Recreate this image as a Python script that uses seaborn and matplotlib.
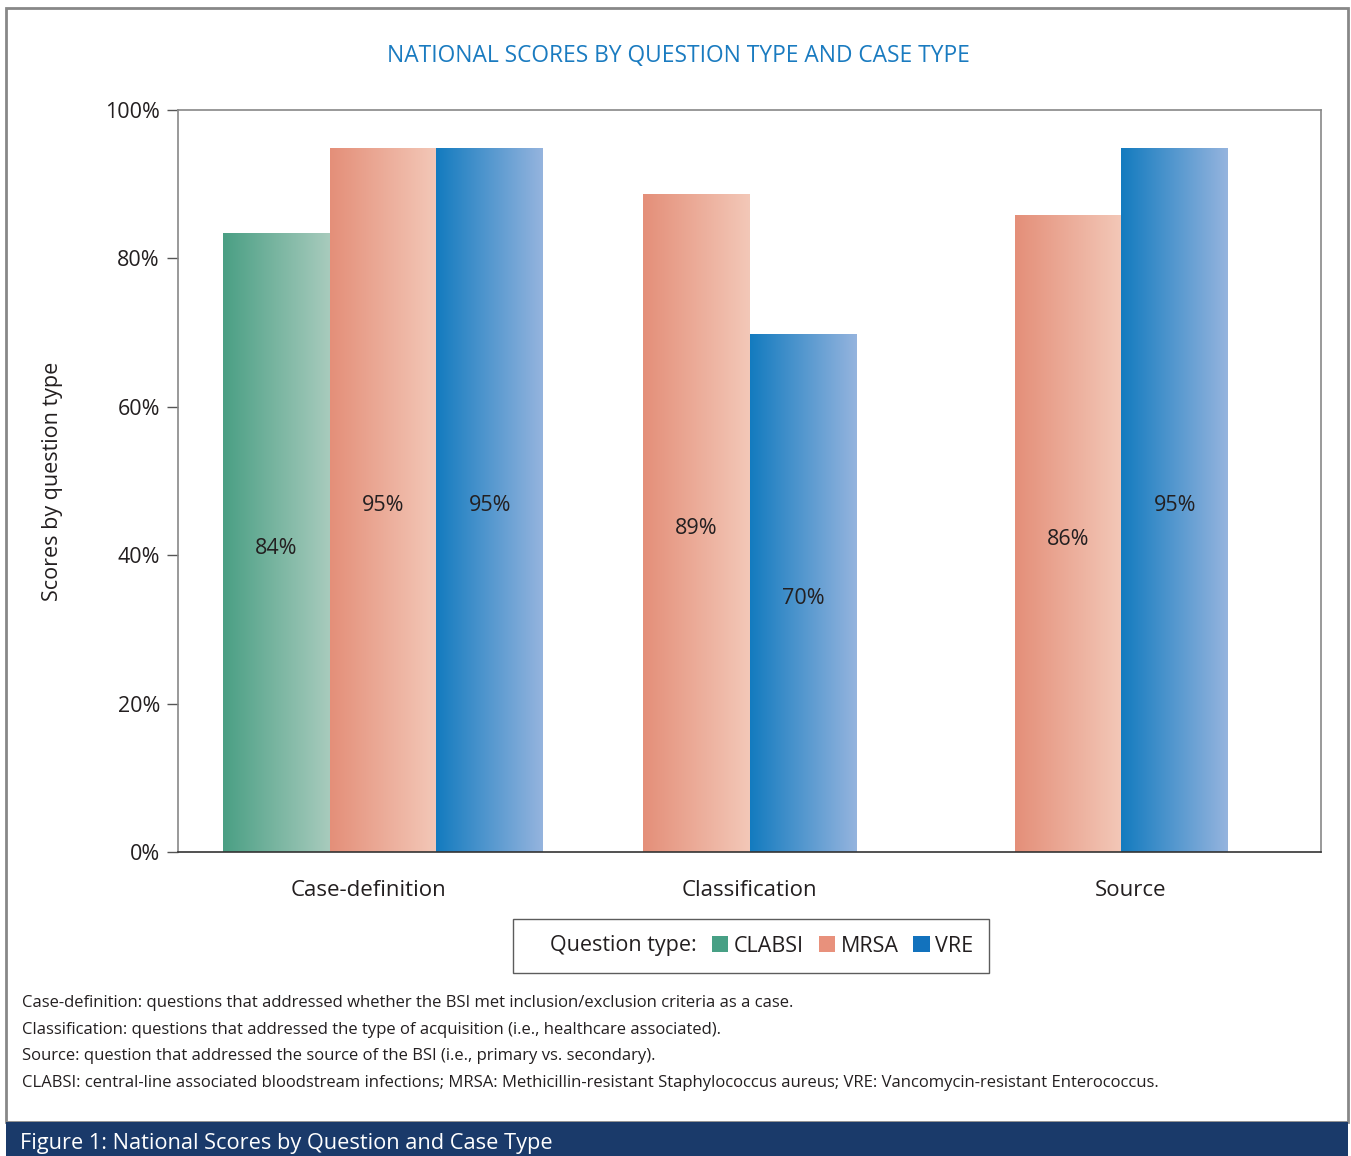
import numpy as np
import pandas as pd
import matplotlib.pyplot as plt
import matplotlib.colors as mcolors
from matplotlib.patches import Rectangle, Patch
import seaborn as sns

# data
categories = ["Case-definition", "Classification", "Source"]
bar_category = ["Case-definition", "Case-definition", "Case-definition",
                "Classification", "Classification", "Source", "Source"]
bar_case = ["CLABSI", "MRSA", "VRE", "MRSA", "VRE", "MRSA", "VRE"]
bar_score = [83.4, 94.9, 94.9, 88.7, 69.8, 85.8, 94.9]
bar_label = ["84%", "95%", "95%", "89%", "70%", "86%", "95%"]
case_types = ["CLABSI", "MRSA", "VRE"]
footnotes = [
    "Case-definition: questions that addressed whether the BSI met inclusion/exclusion criteria as a case.",
    "Classification: questions that addressed the type of acquisition (i.e., healthcare associated).",
    "Source: question that addressed the source of the BSI (i.e., primary vs. secondary).",
    "CLABSI: central-line associated bloodstream infections; MRSA: Methicillin-resistant Staphylococcus aureus; VRE: Vancomycin-resistant Enterococcus.",
]

# gradient colours (left -> right) per case type
grad = {
    "CLABSI": ("#4a9f84", "#a8cbbd"),
    "MRSA": ("#e48f79", "#f3c8b8"),
    "VRE": ("#137bbf", "#95b4de"),
}
solid = {"CLABSI": "#47a085", "MRSA": "#e8917c", "VRE": "#1272bd"}

sns.set_style("white")
plt.rcParams["font.family"] = ["Open Sans", "DejaVu Sans"]
TXT = "#231f20"

# dodge bars inside each category; the groups sit slightly off-centre in the original
bar_w = 0.28
group_nudge = {"Case-definition": 0.038, "Classification": 0.0, "Source": -0.024}
df = pd.DataFrame({"category": bar_category, "case": bar_case, "score": bar_score, "label": bar_label})
df["cat_idx"] = df["category"].map({c: i for i, c in enumerate(categories)})
df["slot"] = df.groupby("category").cumcount()
df["n"] = df.groupby("category")["case"].transform("count")
df["pos"] = (df["cat_idx"] + (df["slot"] - (df["n"] - 1) / 2) * bar_w
             + df["category"].map(group_nudge))

fig = plt.figure(figsize=(13.51, 11.56), dpi=100)
ax = fig.add_axes([178 / 1351, 1 - 852 / 1156, (1321 - 178) / 1351, (852 - 110) / 1156])

sns.barplot(data=df, x="pos", y="score", hue="case", hue_order=case_types,
            palette=solid, native_scale=True, dodge=False, width=1.0,
            errorbar=None, legend=False, ax=ax)

for case, cont in zip(case_types, ax.containers):
    cmap = mcolors.LinearSegmentedColormap.from_list(case, grad[case])
    for bar in cont:
        x0, y0 = bar.get_x(), bar.get_y()
        w, h = bar.get_width(), bar.get_height()
        if np.isnan(h) or h == 0:
            continue
        im = ax.imshow(np.linspace(0, 1, 256).reshape(1, -1), cmap=cmap, aspect="auto",
                       extent=(x0, x0 + w, y0, y0 + h), zorder=2, interpolation="bilinear")
        im.set_clip_path(bar)
        bar.set_facecolor("none")
        bar.set_edgecolor("none")

# value labels at half bar height
for _, r in df.iterrows():
    ax.annotate(r["label"], (r["pos"], r["score"] / 2), xytext=(0, -4),
                textcoords="offset points", ha="center", va="center",
                fontsize=15.5, color=TXT, zorder=3)

ax.set_xlim(-0.5, 2.5)
ax.set_ylim(0, 100)
ax.set_xticks(range(len(categories)))
ax.set_xticklabels(categories, fontsize=16, color=TXT)
ax.tick_params(axis="x", length=0, pad=20)
ax.set_yticks(np.arange(0, 101, 20))
ax.set_yticklabels([f"{v}%" for v in range(0, 101, 20)], fontsize=15.5, color=TXT)
ax.tick_params(axis="y", length=8, width=1, color="#555555", pad=5, left=True)
ax.set_xlabel("")
ax.set_ylabel("Scores by question type", fontsize=15.5, color=TXT, labelpad=30)
for side in ["top", "right", "left"]:
    ax.spines[side].set_color("#888888")
    ax.spines[side].set_linewidth(1.2)
ax.spines["bottom"].set_color("#333333")
ax.spines["bottom"].set_linewidth(1.2)

fig.text(678 / 1351, 1 - 56 / 1156, "NATIONAL SCORES BY QUESTION TYPE AND CASE TYPE",
         ha="center", va="center", fontsize=16.4, color="#1a7bc0")

# legend with inline title
handles = [Patch(facecolor="none", edgecolor="none", label="Question type:")]
handles += [Patch(facecolor=solid[c], edgecolor="none", label=c) for c in case_types]
leg = fig.legend(handles=handles, loc="center", bbox_to_anchor=(751 / 1351, 1 - 946 / 1156),
                 ncol=4, fontsize=15.5, frameon=True, fancybox=False, handlelength=0.75,
                 handleheight=0.75, handletextpad=0.25, columnspacing=0.7,
                 borderpad=0.75, borderaxespad=0)
leg.get_frame().set_edgecolor("#333333")
leg.get_frame().set_linewidth(1.0)
for t in leg.get_texts():
    t.set_color(TXT)

for i, line in enumerate(footnotes):
    fig.text(22 / 1351, 1 - (1003 + i * 26.7) / 1156, line, ha="left", va="center",
             fontsize=11.95, color=TXT)

# outer frame and bottom banner
fig.patches.append(Rectangle((6 / 1351, 1 - 1122 / 1156), 1342 / 1351, 1114 / 1156,
                             transform=fig.transFigure, fill=False, edgecolor="#888888", lw=2))
fig.patches.append(Rectangle((6 / 1351, 0), 1342 / 1351, 34 / 1156,
                             transform=fig.transFigure, facecolor="#1a3a6a", edgecolor="none"))
fig.text(20 / 1351, 1 - 1144 / 1156, "Figure 1: National Scores by Question and Case Type",
         ha="left", va="center", fontsize=15.7, color="white")

fig.savefig("out.png", dpi=100)
